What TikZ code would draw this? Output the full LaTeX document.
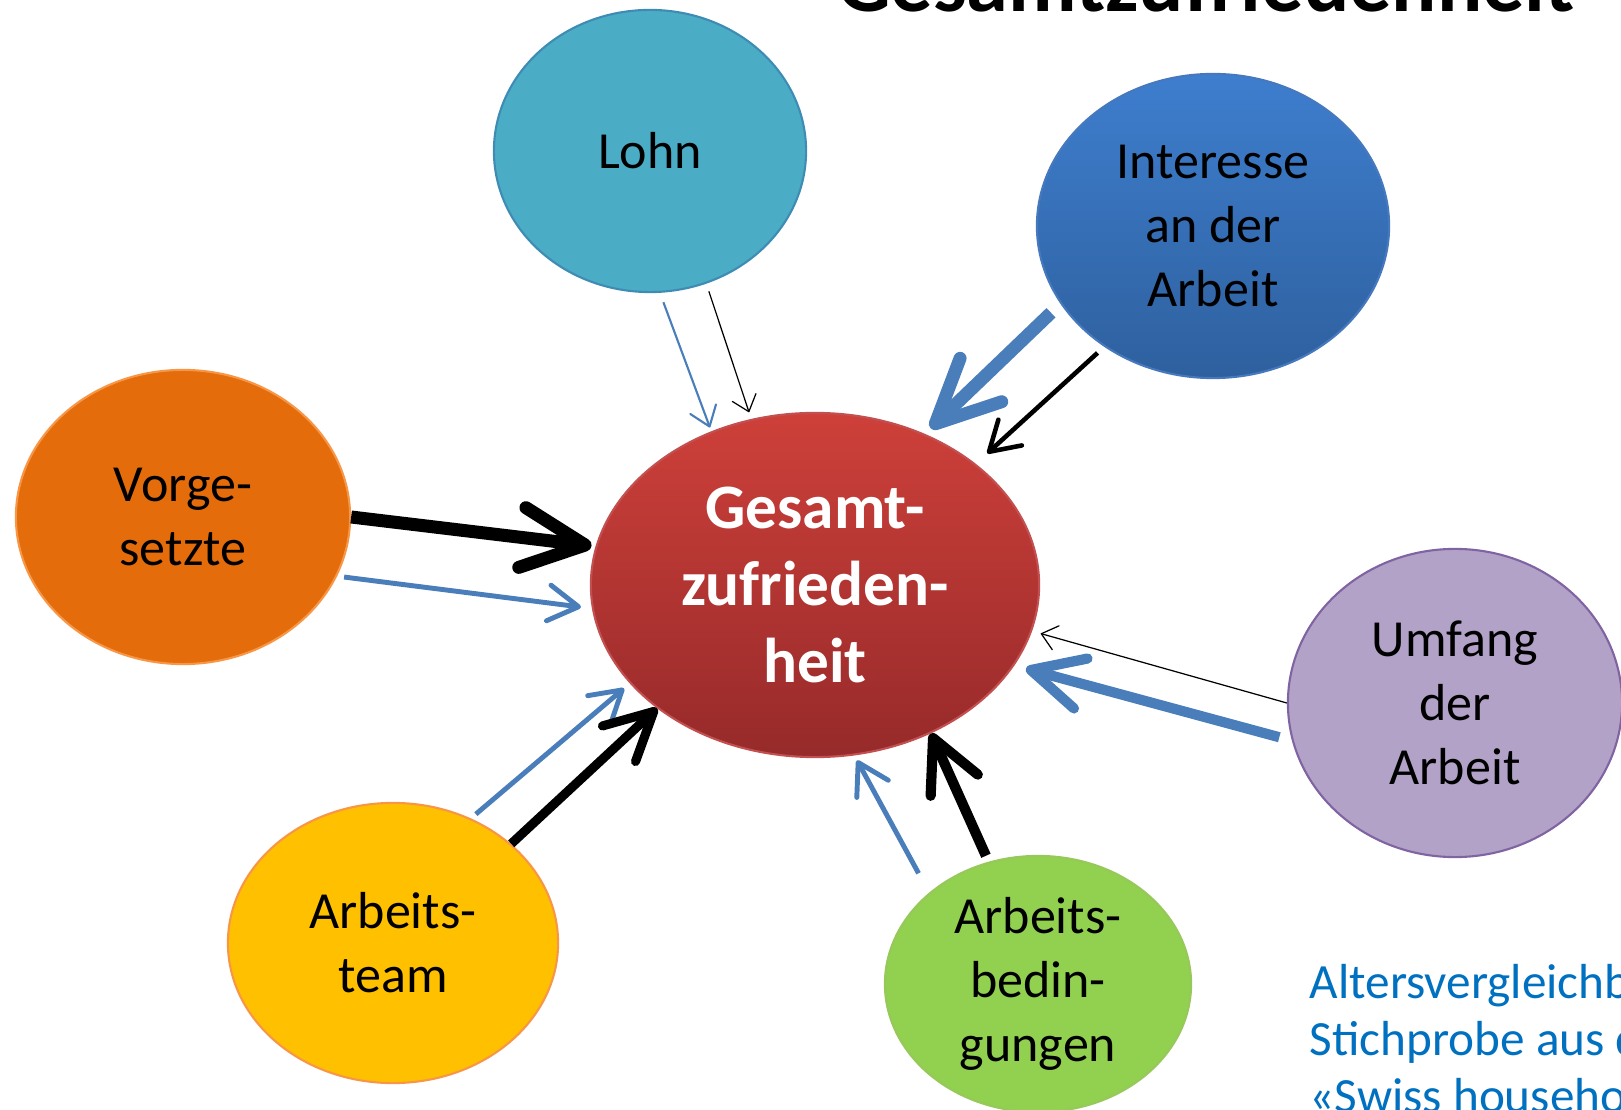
\documentclass[tikz,border=0pt]{standalone}
\usepackage{fontspec}
\setmainfont{Carlito}
\usetikzlibrary{arrows.meta,shapes.geometric}

\definecolor{arrblue}{RGB}{74,126,187}
\definecolor{notecol}{RGB}{0,112,192}
\definecolor{lohnfill}{RGB}{75,172,198}
\definecolor{lohnline}{RGB}{62,140,180}
\definecolor{inttop}{RGB}{62,126,206}
\definecolor{intbot}{RGB}{46,96,158}
\definecolor{intline}{RGB}{70,120,190}
\definecolor{vorgfill}{RGB}{228,108,10}
\definecolor{vorgline}{RGB}{247,150,70}
\definecolor{gestop}{RGB}{206,64,58}
\definecolor{gesbot}{RGB}{150,42,42}
\definecolor{gesline}{RGB}{195,80,80}
\definecolor{umffill}{RGB}{178,162,199}
\definecolor{umfline}{RGB}{128,100,162}
\definecolor{teamfill}{RGB}{255,192,0}
\definecolor{teamline}{RGB}{247,150,70}
\definecolor{bedfill}{RGB}{146,208,80}
\definecolor{bedline}{RGB}{150,200,90}

\begin{document}
\begin{tikzpicture}[x=0.01cm,y=-0.01cm,
    factor/.style={ellipse,inner sep=0pt,line width=0.6pt,align=center,
      font=\fontsize{14.8}{18.2}\selectfont},
    flow/.style={line width=#1,
      -{Straight Barb[round,length=2.8pt 4.1,width=6pt 3]}}]

  % Page frame, everything outside is cut away.
  \clip (0,0) rectangle (1621,1110);

  % The factors round the centre.
  \node[factor,fill=lohnfill,draw=lohnline,minimum width=3.12cm,minimum height=2.82cm]
    (lohn) at (650,151) {Lohn};
  \node[factor,top color=inttop,bottom color=intbot,draw=intline,
    minimum width=3.52cm,minimum height=3.04cm]
    (int) at (1213,226) {Interesse\\an der\\Arbeit};
  \node[factor,fill=vorgfill,draw=vorgline,minimum width=3.34cm,minimum height=2.94cm]
    (vorg) at (183,517) {Vorge-\\setzte};
  \node[factor,fill=umffill,draw=umfline,minimum width=3.34cm,minimum height=3.08cm]
    (umf) at (1455,703) {Umfang\\der\\Arbeit};
  \node[factor,fill=teamfill,draw=teamline,minimum width=3.30cm,minimum height=2.80cm]
    (team) at (393,943) {Arbeits-\\team};
  \node[factor,fill=bedfill,draw=bedline,minimum width=3.06cm,minimum height=2.56cm]
    (bed) at (1038,984) {Arbeits-\\bedin-\\gungen};

  % The centre.
  \node[factor,top color=gestop,bottom color=gesbot,draw=gesline,text=white,
    font=\bfseries\fontsize{18}{22}\selectfont,
    minimum width=4.48cm,minimum height=3.44cm]
    (ges) at (815,585) {Gesamt-\\zufrieden-\\heit};

  % Title and note.
  \node[anchor=base,inner sep=0pt,font=\bfseries\fontsize{24}{28}\selectfont]
    (title) at (1206,12) {Gesamtzufriedenheit};
  \node[anchor=base west,inner sep=0pt,align=left,text=notecol,
    font=\fontsize{14}{16.2}\selectfont]
    (note) at (1309,1112) {Altersvergleichbare\\Stichprobe aus dem\\«Swiss household panel»};

  % Arrows, blue and black for each factor.
  \draw[flow=0.6pt,arrblue,shorten <=0.10cm,shorten >=0.04cm] (lohn.-86.2) -- (ges.124.2);
  \draw[flow=0.35pt,shorten <=0.08cm,shorten >=0.07cm] (lohn.-67.8) -- (ges.111.7);

  \draw[flow=3.7pt,arrblue,shorten <=0.13cm,shorten >=0.08cm] (int.-153.9) -- (ges.54.5);
  \draw[flow=1.3pt,shorten <=0.09cm,shorten >=0.155cm] (int.-132.9) -- (ges.37.1);

  \draw[flow=3.7pt,shorten >=0.04cm] (vorg.0) -- (ges.170.6);
  \draw[flow=1.4pt,arrblue,shorten <=0.07cm,shorten >=0.11cm] (vorg.-21.6) -- (ges.-174.6);

  \draw[flow=0.35pt,shorten >=0.09cm] (umf.180) -- (ges.-12.8);
  \draw[flow=2.9pt,arrblue,shorten <=0.13cm,shorten >=0.12cm] (umf.-167.1) -- (ges.-22.1);

  \draw[flow=1.4pt,arrblue,shorten <=0.065cm,shorten >=0.075cm] (team.58.7) -- (ges.-152.5);
  \draw[flow=2.6pt] (team.40.5) -- (ges.-142.3);

  \draw[flow=1.4pt,arrblue,shorten <=0.22cm,shorten >=0.055cm] (bed.140.5) -- (ges.-77.7);
  \draw[flow=2.9pt,shorten <=0.065cm] (bed.112.7) -- (ges.-52.9);
\end{tikzpicture}
\end{document}
